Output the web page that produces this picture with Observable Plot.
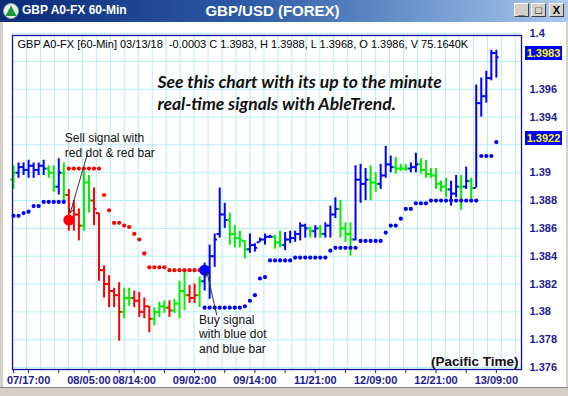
<!DOCTYPE html>
<html><head><meta charset="utf-8">
<script src="https://cdn.jsdelivr.net/npm/d3@7"></script>
<script src="https://cdn.jsdelivr.net/npm/@observablehq/plot@0.6"></script>
<style>
html,body{margin:0;padding:0;background:#fff;}
#win{position:relative;width:568px;height:396px;overflow:hidden;background:#fff;font-family:Arial,"Liberation Sans",sans-serif;}
#titlebar{position:absolute;left:0;top:0;width:568px;height:22px;background:linear-gradient(90deg,#0b2a78 0%,#2f5ea8 45%,#a9c9ef 100%);z-index:3;}
#tleft{position:absolute;left:22px;top:3px;color:#fff;font-weight:bold;font-size:12px;}
#tcenter{position:absolute;left:0;width:545px;top:2px;text-align:center;color:#fff;font-weight:bold;font-size:15px;}
#icon{position:absolute;left:3px;top:3px;}
.btn{position:absolute;top:3px;width:15px;height:14px;background:#d4d0c8;border-top:1px solid #fff;border-left:1px solid #fff;border-right:1px solid #404040;border-bottom:1px solid #404040;box-sizing:border-box;font-size:11px;font-weight:bold;line-height:12px;text-align:center;color:#000;}
#lborder{position:absolute;left:0;top:22px;width:3px;height:374px;background:#d4d0c8;z-index:2;}
#rborder{position:absolute;right:0;top:22px;width:2px;height:374px;background:#d4d0c8;z-index:2;}
#bborder{position:absolute;left:0;bottom:0;width:568px;height:8px;background:#d4d0c8;border-top:1px solid #888;z-index:2;}
#chart{position:absolute;left:0;top:0;z-index:1;}
.hl{position:absolute;left:525px;width:37px;height:14px;background:#0000ff;color:#ffff00;font-weight:bold;font-size:11px;line-height:14px;text-align:center;z-index:2;}
</style>
</head><body>
<div id="win">
  <div id="chart"></div>
  <div id="titlebar">
    <svg id="icon" width="16" height="16"><circle cx="8" cy="8" r="7.5" fill="#e8f0e8" stroke="#8aa" /><polygon points="8,2.5 13.5,13 2.5,13" fill="#1a9a3a"/></svg>
    <div id="tleft">GBP A0-FX 60-Min</div>
    <div id="tcenter">GBP/USD (FOREX)</div>
    <div class="btn" style="left:514px">_</div>
    <div class="btn" style="left:531px">□</div>
    <div class="btn" style="left:549px">X</div>
  </div>
  <div id="lborder"></div><div id="rborder"></div><div id="bborder"></div>
</div>
<script>
// ---- data (60-min bars, index 0 = 03/07 14:00 ... 96 = 03/13 09:00) ----
const highs = [1.3905,1.3907,1.3907,1.3909,1.3907,1.3907,1.3909,1.3905,1.3905,1.3910,
 1.3907,1.3888,1.3880,1.3874,1.3901,1.3898,1.3889,1.3871,1.3833,1.3826,
 1.3817,1.3821,1.3817,1.3817,1.3815,1.3814,1.3810,1.3804,1.3803,1.3807,
 1.3808,1.3808,1.3809,1.3822,1.3830,1.3819,1.3820,1.3825,1.3835,1.3848,
 1.3856,1.3889,1.3878,1.3871,1.3862,1.3858,1.3851,1.3856,1.3849,1.3853,
 1.3856,1.3855,1.3855,1.3858,1.3857,1.3858,1.3858,1.3864,1.3863,1.3861,
 1.3862,1.3862,1.3864,1.3876,1.3882,1.3880,1.3864,1.3864,1.3905,1.3906,
 1.3903,1.3905,1.3900,1.3906,1.3919,1.3912,1.3911,1.3906,1.3906,1.3907,
 1.3914,1.3910,1.3909,1.3903,1.3903,1.3894,1.3896,1.3894,1.3898,1.3898,
 1.3904,1.3896,1.3963,1.3968,1.3973,1.3988,1.3988];
const lows = [1.3888,1.3896,1.3898,1.3896,1.3896,1.3898,1.3898,1.3896,1.3886,1.3884,
 1.3880,1.3858,1.3858,1.3851,1.3858,1.3871,1.3862,1.3822,1.3810,1.3803,
 1.3803,1.3779,1.3795,1.3804,1.3803,1.3796,1.3795,1.3785,1.3790,1.3796,
 1.3799,1.3796,1.3799,1.3795,1.3801,1.3806,1.3806,1.3803,1.3815,1.3809,
 1.3832,1.3853,1.3860,1.3848,1.3846,1.3846,1.3838,1.3842,1.3843,1.3850,
 1.3848,1.3853,1.3845,1.3846,1.3844,1.3849,1.3850,1.3851,1.3853,1.3853,
 1.3853,1.3853,1.3853,1.3853,1.3867,1.3853,1.3850,1.3840,1.3851,1.3878,
 1.3880,1.3880,1.3886,1.3888,1.3896,1.3900,1.3899,1.3901,1.3901,1.3900,
 1.3900,1.3899,1.3896,1.3896,1.3888,1.3886,1.3882,1.3876,1.3882,1.3873,
 1.3888,1.3881,1.3889,1.3940,1.3950,1.3966,1.3968];
const opens = [1.3895,1.3900,1.3904,1.3902,1.3905,1.3902,1.3905,1.3903,1.3900,1.3890,
 1.3900,1.3884,1.3866,1.3870,1.3862,1.3893,1.3880,1.3871,1.3830,1.3820,
 1.3815,1.3812,1.3800,1.3810,1.3810,1.3808,1.3800,1.3804,1.3795,1.3800,
 1.3804,1.3803,1.3801,1.3806,1.3815,1.3812,1.3810,1.3812,1.3822,1.3830,
 1.3840,1.3856,1.3870,1.3866,1.3856,1.3853,1.3851,1.3845,1.3848,1.3850,
 1.3852,1.3854,1.3854,1.3850,1.3848,1.3852,1.3853,1.3856,1.3862,1.3860,
 1.3858,1.3860,1.3856,1.3862,1.3870,1.3874,1.3860,1.3856,1.3852,1.3895,
 1.3892,1.3895,1.3893,1.3892,1.3898,1.3906,1.3904,1.3903,1.3903,1.3903,
 1.3904,1.3906,1.3902,1.3899,1.3898,1.3892,1.3890,1.3888,1.3885,1.3890,
 1.3890,1.3894,1.3889,1.3950,1.3955,1.3968,1.3986];
const closes = [1.3900,1.3904,1.3902,1.3905,1.3902,1.3905,1.3903,1.3900,1.3890,1.3900,
 1.3884,1.3866,1.3870,1.3862,1.3893,1.3880,1.3874,1.3830,1.3820,1.3815,
 1.3812,1.3800,1.3810,1.3810,1.3808,1.3800,1.3804,1.3795,1.3800,1.3804,
 1.3803,1.3801,1.3806,1.3815,1.3812,1.3810,1.3812,1.3822,1.3830,1.3840,
 1.3852,1.3870,1.3866,1.3856,1.3853,1.3852,1.3845,1.3848,1.3846,1.3852,
 1.3854,1.3854,1.3850,1.3848,1.3852,1.3853,1.3856,1.3862,1.3860,1.3858,
 1.3860,1.3856,1.3862,1.3870,1.3874,1.3860,1.3856,1.3852,1.3895,1.3892,
 1.3895,1.3893,1.3892,1.3898,1.3906,1.3904,1.3903,1.3903,1.3903,1.3904,
 1.3906,1.3902,1.3899,1.3898,1.3892,1.3890,1.3888,1.3885,1.3890,1.3890,
 1.3894,1.3889,1.3950,1.3955,1.3968,1.3986,1.3983];
// trend state per bar: b = up (blue), g = neutral (green), r = down (red)
const states = ["g","b","b","b","b","b","b","g","g","b",
 "g","r","r","r","g","g","r","r","r","r",
 "r","r","g","g","r","r","r","r","g","g",
 "g","r","g","g","g","r","r","g","b","b",
 "b","b","b","g","g","g","g","b","b","b",
 "b","b","g","g","b","b","b","b","b","g",
 "b","g","b","b","b","g","g","g","b","b",
 "b","g","g","b","b","b","g","g","g","b",
 "b","g","g","g","g","g","g","b","b","g",
 "b","g","b","b","b","b","b"];
const blueStop = [1.3869,1.3869,1.3871,1.3872,1.3876,1.3876,1.3879,1.3879,1.3879,1.3879,
 1.3879,null,null,null,null,null,null,null,null,null,
 null,null,null,null,null,null,null,null,null,null,
 null,null,null,null,null,null,null,null,1.3803,1.3803,
 1.3803,1.3803,1.3803,1.3803,1.3803,1.3803,1.3804,1.3808,1.3812,1.3824,
 1.3825,1.3837,1.3837,1.3837,1.3837,1.3837,1.3839,1.3839,1.3839,1.3839,
 1.3839,1.3839,1.3839,1.3844,1.3846,1.3846,1.3846,1.3846,1.3846,1.3851,
 1.3851,1.3851,1.3851,1.3851,1.3857,1.3862,1.3862,1.3867,1.3874,1.3874,
 1.3878,1.3878,1.3878,1.3880,1.3880,1.3880,1.3880,1.3880,1.3880,1.3880,
 1.3880,1.3880,1.3880,1.3912,1.3912,1.3912,1.3922];
const redStop = [null,null,null,null,null,null,null,null,null,null,
 null,1.3903,1.3903,1.3903,1.3903,1.3903,1.3903,1.3903,1.3884,1.3873,
 1.3864,1.3864,1.3862,1.3861,1.3856,1.3852,1.3842,1.3832,1.3832,1.3832,
 1.3832,1.3830,1.3830,1.3830,1.3830,1.3830,1.3830,1.3830];
const signals = [{i: 11, price: 1.3866, kind: "sell"}, {i: 38, price: 1.3830, kind: "buy"}];
const xTickBars = [0, 3, 9, 15, 21, 24, 30, 36, 42, 48, 54, 60, 66, 72, 78, 84, 90, 96];
const xLabelBars = [3, 15, 24, 36, 48, 60, 72, 84, 96];
const xLabels = ["07/17:00","08/05:00","08/14:00","09/02:00","09/14:00","11/21:00","12/09:00","12/21:00","13/09:00"];
const yTicks = [1.376,1.378,1.38,1.382,1.384,1.386,1.388,1.39,1.392,1.394,1.396,1.398,1.4];
const yLabelTicks = [1.376,1.378,1.38,1.382,1.384,1.386,1.388,1.39,1.394,1.396,1.4];
const highlights = [1.3983, 1.3922];
const header = "GBP A0-FX [60-Min] 03/13/18  -0.0003 C 1.3983, H 1.3988, L 1.3968, O 1.3986, V 75.1640K";
const promo = "See this chart with its up to the minute\nreal-time signals with AbleTrend.";
const notes = [
  {text: "Sell signal with\nred dot & red bar", x: 10.2, y: 1.3920, ax: 14.7, ay: 1.39137, bx: 11.3, by: 1.38712},
  {text: "Buy signal\nwith blue dot\nand blue bar", x: 36.9, y: 1.37842, ax: 40.4, ay: 1.37979, bx: 38.5, by: 1.38281}
];

const colorOf = {b: "#0000ff", g: "#00ee00", r: "#ff0000"};
const bars = highs.map((h, i) => ({i, h, l: lows[i], o: opens[i], c: closes[i], s: states[i]}));
const blueDots = blueStop.map((v, i) => ({i, v})).filter(d => d.v != null);
const redDots = redStop.map((v, i) => ({i, v})).filter(d => d.v != null);
const gridStep = 2.777;
const gridX = d3.range(2.58, 101, gridStep);
const labelMap = new Map(xLabelBars.map((b, k) => [b, xLabels[k]]));
const navy = "#1c1c8e";

const plot = Plot.plot({
  width: 568, height: 396,
  marginLeft: 12, marginRight: 47, marginTop: 35, marginBottom: 27,
  x: {domain: [-0.2, 101], axis: null},
  y: {domain: [1.37586, 1.39986], axis: null},
  style: {background: "transparent", fontFamily: "Arial, 'Liberation Sans', sans-serif", overflow: "visible"},
  marks: [
    Plot.ruleX(gridX, {stroke: "#b4eef2", strokeWidth: 1}),
    Plot.ruleY(yTicks, {stroke: "#b4eef2", strokeWidth: 1}),
    Plot.ruleX(bars, {x: "i", y1: "l", y2: "h", stroke: d => colorOf[d.s], strokeWidth: 2}),
    Plot.ruleY(bars, {y: "o", x1: d => d.i - 0.55, x2: "i", stroke: d => colorOf[d.s], strokeWidth: 2}),
    Plot.ruleY(bars, {y: "c", x1: "i", x2: d => d.i + 0.55, stroke: d => colorOf[d.s], strokeWidth: 2}),
    Plot.dot(blueDots, {x: "i", y: "v", r: 2.1, fill: "#0000ff", stroke: null}),
    Plot.dot(redDots, {x: "i", y: "v", r: 2.1, fill: "#ff0000", stroke: null}),
    Plot.dot(signals, {x: "i", y: "price", r: 5.5, fill: d => d.kind === "sell" ? "#ff0000" : "#0000ff"}),
    Plot.frame({stroke: "#1010a0", strokeWidth: 1.3}),
    Plot.axisY({anchor: "right", ticks: yLabelTicks, tickFormat: d => String(d), tickSize: 0, tickPadding: 8, fontSize: 11, fontWeight: "bold", fill: navy, textAnchor: "start"}),
    Plot.axisX({anchor: "bottom", ticks: xTickBars, tickFormat: d => labelMap.get(d) ?? "", tickSize: 4, tickPadding: 3, fontSize: 11, fontWeight: "bold", fill: navy, stroke: navy}),
    Plot.text([header], {frameAnchor: "top-left", dx: 5, dy: 5, lineAnchor: "top", textAnchor: "start", fontSize: 11, fill: "#000"}),
    Plot.text([promo], {frameAnchor: "top-left", dx: 145, dy: 37, lineAnchor: "top", textAnchor: "start", fontSize: 17.5, fontWeight: "bold", fontStyle: "italic", fontFamily: "Lato, 'Open Sans', sans-serif", lineHeight: 1.25, fill: "#111"}),
    Plot.text(["(Pacific Time)"], {frameAnchor: "bottom-right", dx: -3, dy: -4, lineAnchor: "bottom", textAnchor: "end", fontSize: 13.5, fontWeight: "bold", fill: "#111"}),
    Plot.text(notes, {x: "x", y: "y", text: "text", textAnchor: "start", lineAnchor: "middle", fontSize: 12, lineHeight: 1.2, fill: "#111"}),
    Plot.arrow(notes, {x1: "ax", y1: "ay", x2: "bx", y2: "by", stroke: "#333", strokeWidth: 1, headLength: 7})
  ]
});
document.getElementById("chart").appendChild(plot);
const ys = plot.scale("y");
for (const v of highlights) {
  const el = document.createElement("div");
  el.className = "hl";
  el.textContent = v.toFixed(4);
  el.style.top = (ys.apply(v) - 11) + "px";
  document.getElementById("win").appendChild(el);
}
</script>
</body></html>
